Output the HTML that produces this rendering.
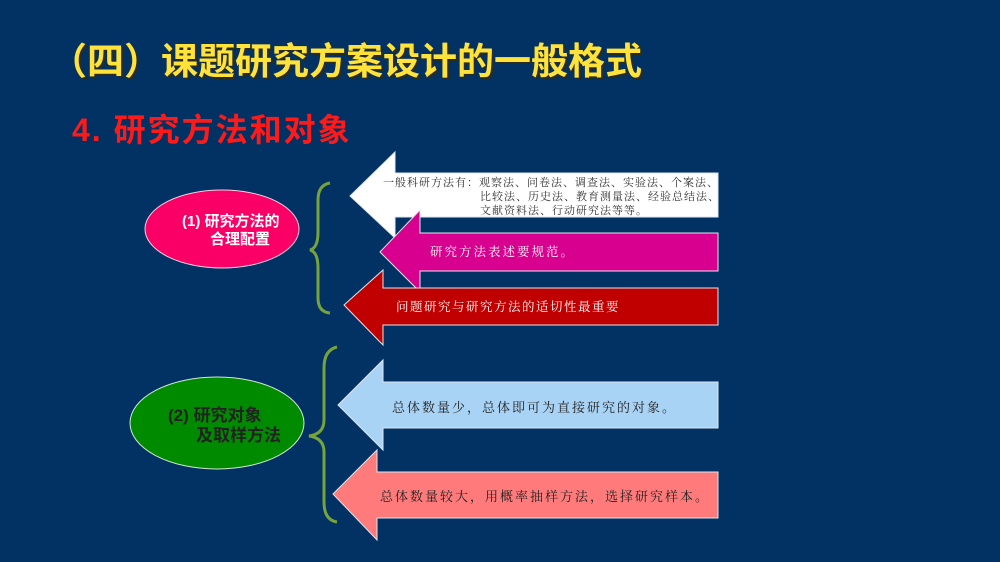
<!DOCTYPE html>
<html><head><meta charset="utf-8"><style>
html,body{margin:0;padding:0;background:#023263;}
svg{display:block}
.s{font-family:"Liberation Serif","Noto Serif CJK SC",serif;}
.h{font-family:"Liberation Sans","Noto Sans CJK SC",sans-serif;font-weight:bold;}
</style></head><body>
<svg width="1000" height="562" viewBox="0 0 1000 562" xmlns="http://www.w3.org/2000/svg">
<rect width="1000" height="562" fill="#023263"/>
<text x="50" y="74" class="h" font-size="37" fill="#3a2a00" opacity="0.7" transform="translate(2,2)">（四）课题研究方案设计的一般格式</text>
<text x="50" y="74" class="h" font-size="37" fill="#ffe33a">（四）课题研究方案设计的一般格式</text>
<text x="72" y="141" class="h" font-size="32" fill="#ff1a1a" letter-spacing="2">4. 研究方法和对象</text>

<ellipse cx="222" cy="229" rx="77" ry="39" fill="#fa0066" stroke="#f0d0e0" stroke-width="1"/>
<text x="182" y="226" class="h" font-size="15" fill="#fff">(1) 研究方法的</text>
<text x="210" y="244" class="h" font-size="15" fill="#fff">合理配置</text>
<ellipse cx="217" cy="423" rx="87" ry="46" fill="#008a00" stroke="#d0e8d0" stroke-width="1"/>
<text x="168" y="421" class="h" font-size="17" fill="#222">(2) 研究对象</text>
<text x="196" y="441" class="h" font-size="17" fill="#222">及取样方法</text>

<path d="M330 183 Q318 185 318 200 L318 232 Q318 248 310 250 Q318 252 318 268 L318 298 Q318 312 330 313" fill="none" stroke="#77a33b" stroke-width="3"/>
<path d="M337 347 Q324 350 324 368 L324 420 Q324 434 309 436 Q324 438 324 452 L324 502 Q324 520 337 522" fill="none" stroke="#77a33b" stroke-width="3"/>

<g stroke="#dfe6ee" stroke-width="1">
<polygon points="350,196 395,152 395,173 718,173 718,217 395,217 395,238" fill="#ffffff"/>
<polygon points="380,252 420,210 420,233 718,233 718,271 420,271 420,292" fill="#d8008e"/>
<polygon points="344,305 383,270 383,288 718,288 718,325 383,325 383,345" fill="#c00000"/>
<polygon points="338,405 383,360 383,382 718,382 718,428 383,428 383,450" fill="#a9d3f5"/>
<polygon points="333,494 377,450 377,472 718,472 718,518 377,518 377,540" fill="#ff7a7a"/>
</g>

<g class="s" font-size="11" fill="#333">
<text x="383" y="186" letter-spacing="1">一般科研方法有：观察法、问卷法、调查法、实验法、个案法、</text>
<text x="480" y="200" letter-spacing="1">比较法、历史法、教育测量法、经验总结法、</text>
<text x="480" y="214" letter-spacing="1">文献资料法、行动研究法等等。</text>
</g>
<text x="430" y="256" class="s" font-size="12.5" fill="#fff" letter-spacing="2">研究方法表述要规范。</text>
<text x="396" y="311" class="s" font-size="12.5" fill="#fff" letter-spacing="1.5">问题研究与研究方法的适切性最重要</text>
<text x="392" y="412" class="s" font-size="13" fill="#222" letter-spacing="2">总体数量少，总体即可为直接研究的对象。</text>
<text x="380" y="501" class="s" font-size="13" fill="#222" letter-spacing="2">总体数量较大，用概率抽样方法，选择研究样本。</text>
</svg>
</body></html>
